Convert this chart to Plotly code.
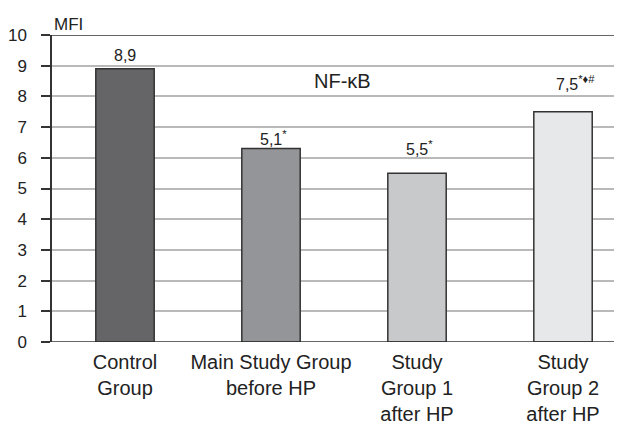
import plotly.graph_objects as go

categories = ["Control<br>Group", "Main Study Group<br>before HP", "Study<br>Group 1<br>after HP", "Study<br>Group 2<br>after HP"]
values = [8.9, 6.3, 5.5, 7.5]
value_labels = ["8,9", "5,1<sup>*</sup>", "5,5<sup>*</sup>", "7,5<sup>*♦#</sup>"]
label_yshift = [13, 11, 25, 29]
label_xshift = [0, 2, 2, 12]
bar_colors = ["#656567", "#949598", "#c8c9cb", "#e7e8e9"]
y_ticks = list(range(0, 11))

REG = "Liberation Sans, Arial, sans-serif"

fig = go.Figure()
fig.add_trace(go.Bar(
    x=categories, y=values,
    marker=dict(color=bar_colors, line=dict(color="#333333", width=1.5)),
    width=0.4,
))

for c, v, t, ys, xs in zip(categories, values, value_labels, label_yshift, label_xshift):
    fig.add_annotation(x=c, y=v, text=t, showarrow=False, yshift=ys, xshift=xs,
                       font=dict(size=16, color="#222222", family=REG),
                       xanchor="center", yanchor="middle")

fig.add_annotation(x=0.51, xref="paper", y=8.5, text="NF-κB", showarrow=False,
                   xanchor="center", yanchor="middle",
                   font=dict(size=20, color="#222222", family=REG))
fig.add_annotation(x=0, xref="paper", y=1.0, yref="paper", yshift=-1, text="MFI",
                   showarrow=False, xanchor="left", yanchor="bottom",
                   font=dict(size=17, color="#222222", family=REG))

# top border line and baseline
fig.add_shape(type="line", xref="paper", yref="y", x0=0, x1=1, y0=10, y1=10,
              line=dict(color="#333333", width=1.5))
fig.add_shape(type="line", xref="paper", yref="y", x0=-9/570, x1=1, y0=0, y1=0,
              line=dict(color="#333333", width=1.5))

fig.update_layout(
    width=614, height=417,
    margin=dict(l=44, r=0, t=27, b=83),
    plot_bgcolor="white", paper_bgcolor="white",
    showlegend=False,
    font=dict(family=REG, color="#222222"),
    xaxis=dict(range=[-0.5, 3.404], showgrid=False, ticks="", showline=False,
               automargin=False, ticklabelstandoff=6,
               tickfont=dict(size=20, family=REG, color="#222222")),
    yaxis=dict(range=[0, 10], tickvals=y_ticks, showgrid=True, gridcolor="#b9b9b9",
               gridwidth=1.5, showline=True, linecolor="#333333", linewidth=1.5,
               ticks="outside", ticklen=9, tickcolor="#333333", tickwidth=1.5,
               automargin=False, ticklabelstandoff=11,
               tickfont=dict(size=17, family=REG, color="#222222"),
               zeroline=False),
)

fig.write_html("out.html")
